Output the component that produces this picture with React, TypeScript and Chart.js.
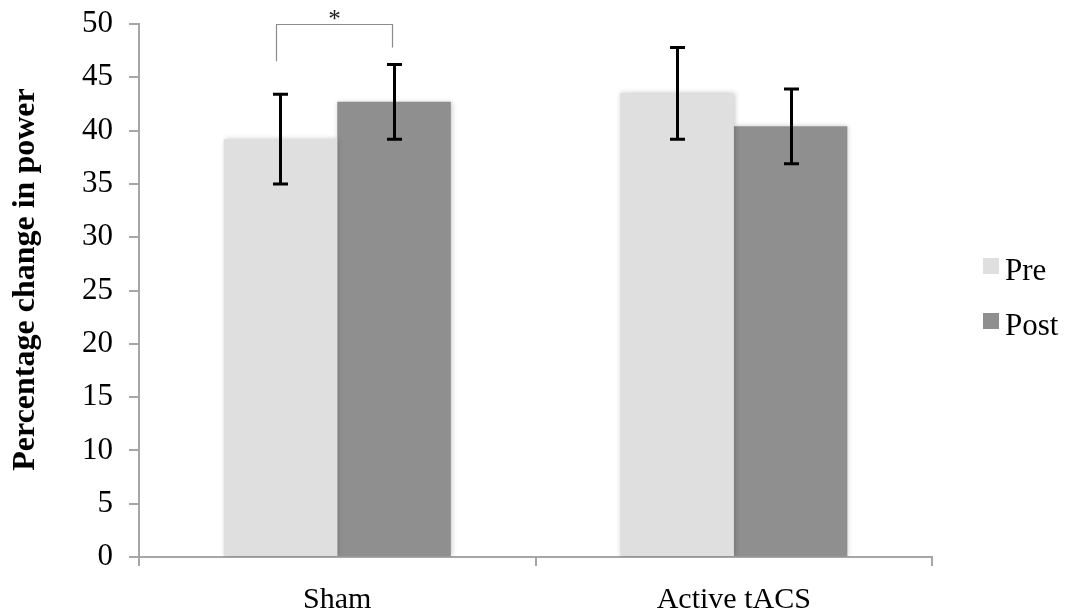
import React, { useEffect, useRef } from "react";
import { Chart, registerables } from "chart.js";

Chart.register(...registerables);

// Group labels and series values (mean percentage change in power)
const categories = ["Sham", "Active tACS"];
const seriesNames = ["Pre", "Post"];
const preValues = [39.2, 43.5];
const postValues = [42.7, 40.4];
// Half-length of each error bar
const preErrors = [4.2, 4.3];
const postErrors = [3.5, 3.5];
// Significance bracket over the Sham group: [left leg end, top, right leg end]
const bracketLevels = [46.5, 50, 47.8];
const bracketLabel = "*";
const yTitle = "Percentage change in power";

const SERIF = "'Liberation Serif', 'Times New Roman', serif";
const PRE_COLOR = "#dfdfdf";
const POST_COLOR = "#8f8f8f";
const AXIS_COLOR = "#a6a6a6";

const errorSets = [preErrors, postErrors];

const barShadow = {
  id: "barShadow",
  beforeDatasetDraw(chart: any) {
    const ctx = chart.ctx;
    ctx.save();
    ctx.shadowColor = "rgba(0,0,0,0.22)";
    ctx.shadowBlur = 5;
    ctx.shadowOffsetX = 1;
    ctx.shadowOffsetY = 0;
  },
  afterDatasetDraw(chart: any) {
    chart.ctx.restore();
  },
};

const errorBars = {
  id: "errorBars",
  afterDatasetsDraw(chart: any) {
    const ctx = chart.ctx;
    const y = chart.scales.y;
    ctx.save();
    ctx.strokeStyle = "#000";
    ctx.lineWidth = 3;
    ctx.lineCap = "butt";
    chart.data.datasets.forEach((ds: any, di: number) => {
      const meta = chart.getDatasetMeta(di);
      meta.data.forEach((bar: any, i: number) => {
        const v = ds.data[i];
        const e = errorSets[di][i];
        const x = Math.round(bar.x) + 0.5;
        const top = y.getPixelForValue(v + e);
        const bot = y.getPixelForValue(v - e);
        const cap = 7.5;
        ctx.beginPath();
        ctx.moveTo(x, top);
        ctx.lineTo(x, bot);
        ctx.moveTo(x - cap, top);
        ctx.lineTo(x + cap, top);
        ctx.moveTo(x - cap, bot);
        ctx.lineTo(x + cap, bot);
        ctx.stroke();
      });
    });

    // significance bracket between Pre and Post of the first group
    const left = chart.getDatasetMeta(0).data[0];
    const right = chart.getDatasetMeta(1).data[0];
    const lx = Math.round(left.x) - 3.5;
    const rx = Math.round(right.x) - 1.5;
    const yl = y.getPixelForValue(bracketLevels[0]);
    const yt = Math.round(y.getPixelForValue(bracketLevels[1])) + 0.5;
    const yr = y.getPixelForValue(bracketLevels[2]);
    ctx.strokeStyle = "#8c8c8c";
    ctx.lineWidth = 1.2;
    ctx.beginPath();
    ctx.moveTo(lx, yl);
    ctx.lineTo(lx, yt);
    ctx.lineTo(rx, yt);
    ctx.lineTo(rx, yr);
    ctx.stroke();
    ctx.fillStyle = "#222";
    ctx.font = `25px ${SERIF}`;
    ctx.textAlign = "center";
    ctx.textBaseline = "alphabetic";
    ctx.fillText(bracketLabel, (lx + rx) / 2, yt + 2);
    ctx.restore();
  },
};

const sideText = {
  id: "sideText",
  afterDraw(chart: any) {
    const ctx = chart.ctx;
    const area = chart.chartArea;
    const mid = (area.top + area.bottom) / 2;

    // legend on the right
    const x0 = area.right + 51;
    const rows = [mid - 32.5, mid + 22.5];
    ctx.save();
    ctx.font = `31px ${SERIF}`;
    ctx.textAlign = "left";
    ctx.textBaseline = "alphabetic";
    chart.data.datasets.forEach((ds: any, i: number) => {
      const top = rows[i];
      ctx.fillStyle = ds.backgroundColor;
      ctx.fillRect(x0, top, 16, 16);
      ctx.fillStyle = "#000";
      ctx.fillText(ds.label, x0 + 22, top + 22);
    });

    // vertical axis title
    ctx.translate(26, mid - 11);
    ctx.rotate(-Math.PI / 2);
    ctx.font = `bold 32px ${SERIF}`;
    ctx.textAlign = "center";
    ctx.textBaseline = "middle";
    ctx.fillText(yTitle, 0, 0);
    ctx.restore();
  },
};

export default function App() {
  const canvasRef = useRef<HTMLCanvasElement | null>(null);

  useEffect(() => {
    const canvas = canvasRef.current;
    if (!canvas) return;
    const chart = new Chart(canvas, {
      type: "bar",
      data: {
        labels: categories,
        datasets: [
          {
            label: seriesNames[0],
            data: preValues,
            backgroundColor: PRE_COLOR,
            borderWidth: 0,
            categoryPercentage: 0.573,
            barPercentage: 1,
          },
          {
            label: seriesNames[1],
            data: postValues,
            backgroundColor: POST_COLOR,
            borderWidth: 0,
            categoryPercentage: 0.573,
            barPercentage: 1,
          },
        ],
      },
      options: {
        responsive: false,
        animation: false,
        layout: { padding: { top: 24, right: 133, left: 0, bottom: 0 } },
        plugins: {
          legend: { display: false },
          tooltip: { enabled: false },
        },
        scales: {
          x: {
            afterFit(scale: any) {
              scale.height = 56;
              scale.paddingLeft = 0;
              scale.paddingRight = 0;
            },
            grid: {
              offset: true,
              drawOnChartArea: false,
              drawTicks: true,
              tickLength: 9,
              color: AXIS_COLOR,
              lineWidth: 2,
            },
            border: { display: true, color: AXIS_COLOR, width: 2 },
            ticks: {
              color: "#000",
              font: { family: SERIF, size: 30 },
              padding: 16,
            },
          },
          y: {
            min: 0,
            max: 50,
            afterFit(scale: any) {
              scale.width = 139;
              scale.paddingTop = 0;
              scale.paddingBottom = 0;
            },
            grid: {
              drawOnChartArea: false,
              drawTicks: true,
              tickLength: 10,
              color: AXIS_COLOR,
              lineWidth: 2,
            },
            border: { display: true, color: AXIS_COLOR, width: 2 },
            ticks: {
              stepSize: 5,
              color: "#000",
              font: { family: SERIF, size: 31 },
              padding: 16,
            },
          },
        },
      },
      plugins: [barShadow, errorBars, sideText],
    });
    return () => chart.destroy();
  }, []);

  return (
    <div style={{ position: "absolute", left: 0, top: 0, width: 1065, height: 613, background: "#fff" }}>
      <canvas ref={canvasRef} width={1065} height={613} style={{ display: "block" }} />
    </div>
  );
}
